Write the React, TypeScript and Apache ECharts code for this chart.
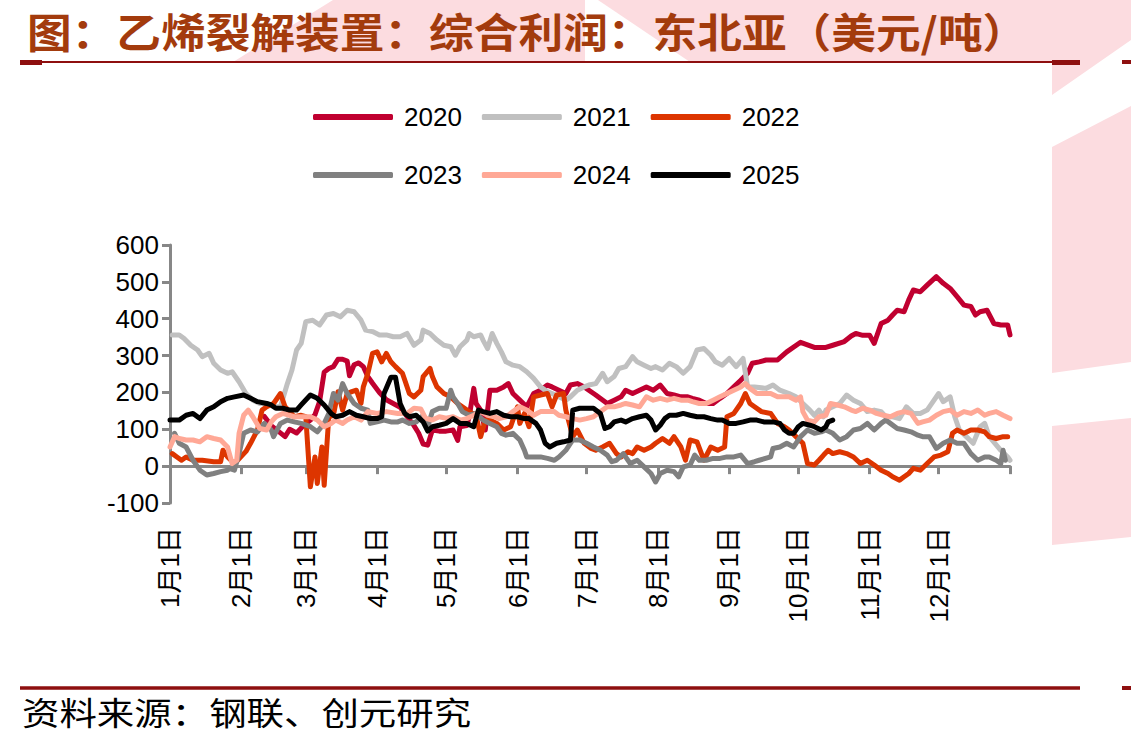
import React, { useEffect, useRef } from "react";
import * as echarts from "echarts";

// Day-of-year positions where each month starts (non-leap year), plus the year end.
const MONTH_START_DAYS = [0, 31, 59, 90, 120, 151, 181, 212, 243, 273, 304, 334];
const MONTH_LENGTHS = [31, 28, 31, 30, 31, 30, 31, 31, 30, 31, 30, 31];
const YEAR_END_DAY = 365;

const SERIES_NAMES = ["2020", "2021", "2022", "2023", "2024", "2025"];
const SERIES_COLORS = ["#C00030", "#C0C0C0", "#DD3500", "#808080", "#FFA896", "#000000"];

const Y_MIN = -100;
const Y_MAX = 600;
const Y_STEP = 100;

// Ethylene cracker integrated margin, Northeast Asia (USD/t): [day of year, value]
const profit2020: [number, number][] = [
  [41, 135], [44, 110], [47, 95], [50, 80], [52, 100], [55, 90], [58, 110], [61, 125], [63, 140], [65, 175],
  [67, 255], [69, 265], [71, 270], [73, 290], [75, 290], [77, 285], [78, 245], [80, 275], [82, 280], [84, 270],
  [86, 243], [88, 225], [91, 200], [94, 180], [97, 170], [100, 160], [103, 135], [106, 110], [108, 90], [110, 60],
  [112, 57], [114, 98], [117, 95], [120, 95], [123, 98], [125, 70], [126, 107], [129, 110], [130, 134], [132, 211],
  [133, 170], [135, 152], [137, 98], [139, 206], [142, 206], [145, 215], [147, 224], [149, 197], [152, 179], [155, 161],
  [158, 197], [161, 206], [164, 220], [166, 215], [169, 206], [172, 197], [174, 220], [177, 224], [180, 215], [182, 206],
  [185, 193], [190, 170], [193, 179], [196, 188], [198, 206], [201, 197], [204, 206], [207, 215], [210, 206], [213, 220],
  [216, 197], [219, 193], [222, 188], [225, 188], [227, 184], [230, 179], [233, 170], [236, 170], [239, 184], [242, 197],
  [245, 215], [248, 233], [251, 252], [253, 279], [256, 283], [259, 288], [264, 288], [268, 310], [274, 336], [280, 322],
  [285, 322], [288, 328], [293, 338], [296, 353], [298, 360], [301, 355], [304, 355], [306, 333], [309, 387], [312, 396],
  [314, 410], [316, 423], [319, 419], [321, 451], [323, 478], [326, 473], [329, 491], [333, 514], [336, 496], [339, 482],
  [342, 460], [345, 437], [348, 433], [350, 410], [352, 419], [355, 423], [358, 387], [361, 383], [364, 383], [365, 356],
];

const profit2021: [number, number][] = [
  [1, 356], [4, 356], [6, 347], [9, 328], [12, 315], [14, 297], [17, 306], [19, 279], [22, 261], [25, 252],
  [27, 256], [30, 229], [33, 197], [36, 179], [39, 170], [42, 170], [45, 161], [48, 161], [51, 224], [53, 261],
  [55, 315], [57, 333], [59, 392], [62, 396], [65, 383], [68, 410], [71, 414], [74, 405], [77, 423], [80, 419],
  [83, 396], [85, 369], [88, 365], [91, 356], [94, 356], [97, 351], [100, 351], [103, 360], [106, 328], [109, 342],
  [110, 369], [113, 360], [116, 342], [119, 328], [122, 324], [124, 301], [126, 324], [129, 342], [130, 360], [132, 351],
  [135, 356], [136, 342], [138, 319], [140, 360], [142, 333], [144, 310], [146, 283], [149, 274], [152, 270], [155, 256],
  [158, 238], [161, 215], [164, 202], [166, 197], [169, 188], [172, 179], [174, 188], [177, 206], [180, 215], [182, 220],
  [185, 224], [188, 252], [190, 229], [193, 243], [195, 265], [198, 270], [201, 297], [203, 283], [206, 274], [209, 265],
  [211, 270], [214, 261], [217, 279], [220, 270], [223, 252], [226, 270], [229, 315], [232, 319], [235, 301], [237, 283],
  [240, 274], [243, 292], [246, 270], [249, 292], [251, 215], [254, 215], [259, 211], [262, 220], [265, 206], [269, 197],
  [272, 188], [275, 170], [278, 152], [280, 138], [282, 152], [284, 134], [285, 152], [288, 161], [291, 170], [294, 193],
  [297, 179], [300, 170], [303, 148], [306, 152], [309, 148], [311, 134], [314, 134], [317, 129], [320, 161], [323, 143],
  [326, 143], [329, 152], [332, 179], [334, 197], [336, 175], [339, 188], [341, 134], [343, 98], [346, 80], [349, 62],
  [352, 107], [354, 116], [356, 80], [361, 43], [364, 25], [365, 16],
];

const profit2022: [number, number][] = [
  [1, 34], [3, 25], [5, 16], [7, 25], [10, 16], [14, 16], [19, 12], [22, 12], [23, 43], [25, 25],
  [28, 7], [30, 20], [33, 40], [35, 62], [38, 98], [40, 152], [42, 161], [45, 170], [48, 197], [50, 161],
  [54, 134], [57, 138], [59, 134], [61, -56], [63, 25], [64, -47], [66, 52], [67, -52], [69, 134], [71, 138],
  [73, 202], [75, 152], [77, 197], [79, 202], [81, 206], [83, 170], [84, 215], [86, 252], [88, 306], [90, 310],
  [92, 283], [94, 306], [96, 283], [98, 270], [101, 252], [104, 197], [106, 188], [109, 206], [110, 243], [113, 265],
  [114, 243], [116, 215], [119, 197], [122, 188], [125, 170], [127, 161], [130, 148], [133, 138], [135, 80], [137, 125],
  [139, 125], [142, 116], [145, 98], [148, 107], [151, 161], [152, 116], [154, 143], [156, 107], [158, 188], [161, 193],
  [164, 197], [166, 161], [168, 193], [171, 197], [172, 152], [175, 80], [177, 98], [180, 62], [183, 48], [185, 43],
  [188, 52], [191, 62], [194, 34], [196, 25], [199, 39], [201, 34], [203, 52], [206, 43], [209, 52], [211, 62],
  [214, 75], [217, 62], [219, 80], [222, 52], [224, 16], [226, 71], [229, 66], [232, 16], [235, 52], [238, 43],
  [241, 52], [242, 134], [245, 143], [248, 170], [250, 197], [252, 170], [254, 161], [257, 148], [261, 143], [264, 116],
  [267, 107], [269, 98], [272, 80], [275, 62], [277, 7], [280, 3], [282, 16], [284, 30], [286, 43], [288, 34],
  [291, 39], [294, 34], [297, 25], [300, 7], [303, 16], [306, 3], [309, -11], [312, -20], [314, -29], [317, -38],
  [319, -29], [321, -20], [323, -6], [326, -11], [329, 7], [332, 25], [335, 30], [338, 39], [340, 89], [342, 98],
  [345, 89], [348, 98], [351, 98], [354, 93], [356, 80], [359, 75], [362, 80], [364, 80],
];

const profit2023: [number, number][] = [
  [2, 89], [4, 62], [7, 52], [10, 16], [13, -11], [16, -24], [19, -20], [22, -15], [25, -11], [26, -7],
  [28, -11], [30, 34], [32, 89], [35, 98], [38, 93], [41, 116], [44, 98], [45, 80], [48, 116], [51, 125],
  [54, 120], [57, 116], [61, 107], [64, 93], [67, 116], [69, 143], [71, 197], [73, 179], [75, 224], [77, 197],
  [80, 170], [83, 157], [86, 152], [87, 116], [90, 120], [93, 125], [96, 120], [99, 120], [101, 125], [104, 116],
  [107, 120], [110, 138], [112, 107], [114, 148], [117, 157], [120, 157], [122, 206], [123, 188], [125, 170], [127, 148],
  [130, 138], [133, 143], [136, 125], [139, 116], [142, 107], [144, 89], [146, 84], [149, 89], [152, 71], [154, 43],
  [155, 25], [158, 25], [161, 25], [164, 21], [167, 16], [169, 25], [172, 43], [175, 71], [178, 71], [181, 62],
  [184, 52], [187, 43], [190, 30], [192, 12], [194, 16], [197, 34], [200, 7], [203, 16], [206, -2], [209, -20],
  [211, -43], [213, -20], [216, -11], [219, -15], [221, -29], [223, -2], [226, 3], [228, 30], [230, 16], [233, 16],
  [236, 21], [239, 21], [242, 25], [245, 25], [248, 30], [251, 7], [254, 12], [256, 16], [261, 25], [262, 48],
  [265, 52], [268, 62], [271, 52], [274, 80], [277, 98], [280, 89], [283, 93], [285, 98], [288, 89], [291, 71],
  [294, 80], [297, 98], [300, 102], [303, 116], [306, 98], [309, 116], [311, 125], [313, 116], [316, 102], [319, 98],
  [322, 93], [325, 84], [327, 80], [330, 80], [333, 48], [336, 62], [339, 71], [342, 62], [345, 62], [348, 34],
  [351, 16], [354, 25], [356, 25], [359, 16], [361, 7], [362, 43], [363, 16],
];

const profit2024: [number, number][] = [
  [0, 52], [2, 80], [4, 75], [7, 71], [10, 71], [13, 66], [16, 80], [19, 75], [22, 71], [25, 52],
  [27, 7], [29, 16], [30, 89], [32, 138], [34, 152], [36, 134], [39, 102], [42, 98], [44, 120], [46, 134],
  [49, 143], [54, 134], [57, 134], [61, 134], [64, 125], [67, 107], [70, 116], [72, 125], [75, 116], [77, 125],
  [80, 134], [83, 125], [86, 148], [90, 143], [94, 148], [99, 143], [103, 143], [106, 157], [109, 155], [111, 130],
  [114, 125], [117, 134], [120, 130], [123, 134], [126, 125], [129, 129], [132, 138], [135, 148], [138, 138], [141, 134],
  [143, 129], [146, 134], [149, 148], [152, 161], [155, 152], [158, 138], [161, 148], [164, 148], [167, 148], [169, 138],
  [172, 134], [175, 129], [178, 125], [181, 129], [184, 134], [187, 148], [190, 161], [193, 161], [196, 166], [198, 170],
  [201, 166], [204, 161], [207, 188], [210, 179], [213, 184], [216, 179], [219, 184], [222, 179], [225, 179], [227, 175],
  [230, 170], [233, 170], [236, 179], [239, 188], [242, 197], [245, 206], [248, 215], [250, 224], [252, 211], [255, 197],
  [259, 197], [261, 197], [264, 188], [269, 188], [272, 179], [274, 188], [275, 148], [277, 125], [280, 120], [282, 134],
  [285, 138], [287, 170], [290, 166], [293, 161], [296, 152], [298, 148], [301, 157], [304, 152], [307, 143], [310, 138],
  [313, 134], [316, 143], [319, 148], [322, 143], [325, 116], [327, 120], [330, 125], [333, 138], [336, 148], [339, 152],
  [342, 138], [345, 148], [348, 143], [351, 152], [354, 138], [356, 143], [359, 148], [362, 138], [365, 129],
];

const profit2025: [number, number][] = [
  [0, 125], [4, 125], [7, 138], [10, 143], [13, 129], [16, 152], [19, 161], [22, 175], [25, 184], [28, 188],
  [32, 193], [35, 184], [38, 175], [42, 170], [44, 166], [46, 157], [49, 157], [52, 152], [55, 152], [57, 166],
  [61, 193], [64, 184], [67, 166], [70, 143], [72, 134], [75, 138], [78, 148], [81, 138], [84, 134], [87, 129],
  [90, 129], [92, 134], [93, 197], [96, 241], [98, 241], [100, 170], [102, 143], [104, 134], [107, 138], [110, 120],
  [112, 95], [114, 107], [117, 111], [120, 116], [123, 129], [126, 116], [129, 116], [132, 107], [134, 152], [136, 148],
  [139, 143], [142, 148], [145, 138], [148, 134], [151, 134], [154, 129], [156, 129], [159, 116], [161, 98], [163, 62],
  [165, 52], [168, 62], [171, 66], [174, 71], [175, 152], [178, 157], [181, 157], [184, 157], [187, 143], [189, 102],
  [191, 107], [193, 120], [196, 125], [198, 120], [201, 129], [204, 134], [207, 138], [209, 125], [211, 98], [213, 111],
  [215, 129], [217, 138], [220, 138], [223, 143], [226, 138], [229, 134], [232, 134], [235, 129], [238, 125], [240, 125],
  [243, 116], [246, 116], [249, 120], [252, 125], [255, 125], [258, 120], [262, 120], [265, 116], [267, 98], [269, 89],
  [271, 89], [273, 107], [275, 116], [278, 111], [280, 107], [283, 98], [285, 107], [286, 120], [288, 125],
];

const SERIES_DATA = [profit2020, profit2021, profit2022, profit2023, profit2024, profit2025];

// Category labels for every day of the year ("1月1日" ...), plus the closing year-end slot.
const DAY_LABELS: string[] = [];
MONTH_LENGTHS.forEach((len, m) => {
  for (let d = 1; d <= len; d++) DAY_LABELS.push(`${m + 1}月${d}日`);
});
DAY_LABELS.push("");

const TITLE_TEXT = "图：乙烯裂解装置：综合利润：东北亚（美元/吨）";
const SOURCE_TEXT = "资料来源：钢联、创元研究";

const LATIN_FONT = "'Liberation Sans', Arial, 'Noto Sans CJK SC', sans-serif";
const CJK_FONT = "'Noto Sans CJK SC', sans-serif";
const AXIS_GRAY = "#878787";
const RULE_RED = "#8E0F0F";
const WATERMARK_PINK = "#FCDCE0";

export default function App() {
  const ref = useRef<HTMLDivElement>(null);

  useEffect(() => {
    if (!ref.current) return;
    const chart = echarts.init(ref.current, undefined, { renderer: "svg" });

    const legendText = {
      fontSize: 26,
      lineHeight: 26,
      color: "#000",
      fontFamily: LATIN_FONT,
      padding: [0, 0, 0, 6],
    };
    const legendBase = {
      orient: "horizontal" as const,
      left: 313,
      padding: 0,
      icon: "roundRect",
      itemWidth: 80,
      itemHeight: 6,
      itemGap: 20,
      textStyle: legendText,
    };

    const option: echarts.EChartsOption = {
      animation: false,
      backgroundColor: "#ffffff",
      textStyle: { fontFamily: LATIN_FONT },
      graphic: [
        // faint logo watermark showing around the chart panel
        {
          type: "polygon",
          z: -10,
          silent: true,
          shape: { points: [[233, 62], [333, 0], [1131, 0], [1131, 40], [1052, 95], [1052, 62]] },
          style: { fill: WATERMARK_PINK },
        },
        {
          type: "polygon",
          z: -9,
          silent: true,
          shape: { points: [[585, 0], [598, 0], [690, 62], [585, 62]] },
          style: { fill: "#ffffff" },
        },
        {
          type: "polygon",
          z: -10,
          silent: true,
          shape: { points: [[1052, 147], [1131, 106], [1131, 362], [1052, 373]] },
          style: { fill: WATERMARK_PINK },
        },
        {
          type: "polygon",
          z: -10,
          silent: true,
          shape: { points: [[1052, 426], [1131, 418], [1131, 537], [1052, 545]] },
          style: { fill: WATERMARK_PINK },
        },
        // title
        {
          type: "text",
          x: 27,
          y: 9,
          scaleX: 1.09,
          style: {
            text: TITLE_TEXT,
            font: `bold 41px ${CJK_FONT}`,
            fill: "#A33B0D",
            textVerticalAlign: "top",
          },
        },
        // rule under the title
        {
          type: "line",
          shape: { x1: 20, y1: 62, x2: 1080, y2: 62 },
          style: { stroke: RULE_RED, lineWidth: 2 },
        },
        { type: "rect", shape: { x: 20, y: 60, width: 22, height: 5 }, style: { fill: RULE_RED } },
        { type: "rect", shape: { x: 1052, y: 60, width: 28, height: 5 }, style: { fill: RULE_RED } },
        { type: "rect", shape: { x: 1122, y: 60, width: 9, height: 4 }, style: { fill: RULE_RED } },
        // rule above the source note
        {
          type: "line",
          shape: { x1: 20, y1: 688, x2: 1080, y2: 688 },
          style: { stroke: RULE_RED, lineWidth: 3.5 },
        },
        { type: "rect", shape: { x: 1122, y: 686, width: 9, height: 4 }, style: { fill: RULE_RED } },
        // source note
        {
          type: "text",
          x: 22,
          y: 695,
          scaleX: 1.17,
          style: {
            text: SOURCE_TEXT,
            font: `32px ${CJK_FONT}`,
            fill: "#000",
            textVerticalAlign: "top",
          },
        },
      ],
      legend: [
        { ...legendBase, top: 104, data: SERIES_NAMES.slice(0, 3) },
        { ...legendBase, top: 162, data: SERIES_NAMES.slice(3, 6) },
      ],
      grid: { left: 170, right: 121, top: 245, bottom: 238, containLabel: false },
      xAxis: {
        type: "category",
        data: DAY_LABELS,
        boundaryGap: false,
        axisLine: { onZero: true, lineStyle: { color: AXIS_GRAY, width: 3 } },
        axisTick: {
          show: true,
          length: 8,
          interval: (i: number) => MONTH_START_DAYS.includes(i) || i === YEAR_END_DAY,
          lineStyle: { color: AXIS_GRAY, width: 3 },
        },
        axisLabel: {
          interval: (i: number) => MONTH_START_DAYS.includes(i),
          rotate: 90,
          margin: 24,
          fontSize: 26,
          color: "#000",
          fontFamily: LATIN_FONT,
          padding: [8, 0, 0, 0],
        },
        splitLine: { show: false },
      },
      yAxis: {
        type: "value",
        min: Y_MIN,
        max: Y_MAX,
        interval: Y_STEP,
        axisLine: { show: true, lineStyle: { color: AXIS_GRAY, width: 3 } },
        axisTick: { show: true, length: 8, lineStyle: { color: AXIS_GRAY, width: 3 } },
        axisLabel: { fontSize: 26, margin: 11, color: "#000", fontFamily: LATIN_FONT },
        splitLine: { show: false },
      },
      series: SERIES_NAMES.map((name, i) => ({
        name,
        type: "line" as const,
        data: SERIES_DATA[i],
        showSymbol: false,
        symbol: "none",
        color: SERIES_COLORS[i],
        lineStyle: { width: 5, color: SERIES_COLORS[i], join: "round", cap: "round" },
        z: 2 + i,
      })),
    };

    chart.setOption(option);
    return () => chart.dispose();
  }, []);

  return (
    <div
      ref={ref}
      style={{ position: "fixed", left: 0, top: 0, width: 1131, height: 741, background: "#fff" }}
    />
  );
}
